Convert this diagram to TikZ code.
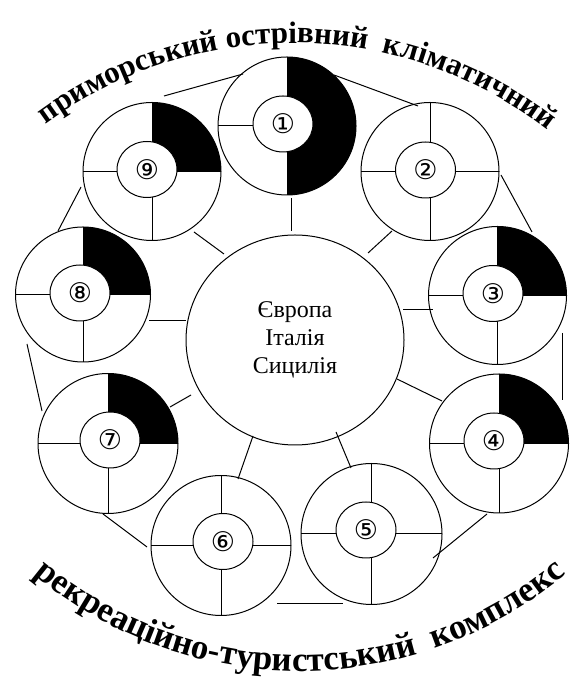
\documentclass[tikz,border=0pt]{standalone}
\usepackage{fontspec}
\setmainfont{Liberation Serif}
\newfontfamily\symfont{DejaVu Sans}
\usetikzlibrary{shapes.geometric,decorations.text}
\tikzset{
  ln/.style={line width=1pt},
  outerring/.style={circle, draw, line width=1pt, inner sep=0pt},
  innerring/.style={ellipse, draw, fill=white, line width=1pt, inner sep=0pt,
    minimum width=60pt, minimum height=56pt, font=\symfont\fontsize{27}{27}\selectfont},
  hub/.style={ellipse, draw, line width=1pt, inner sep=0pt, minimum width=218pt,
    minimum height=210pt, align=center, font=\fontsize{24}{28}\selectfont},
  link/.style={line width=1pt},
}
\newcommand\dial[8]{%
  \ifcase#7\relax\or
    \fill (#2,#3) -- (#2,#3+#4) arc[start angle=90,end angle=0,radius=#4] -- cycle;
  \or
    \fill (#2,#3+#4) arc[start angle=90,end angle=-90,radius=#4] -- cycle;
  \fi
  \draw[ln] (#2-#4,#3) -- (#2+#4,#3) (#2,#3-#4) -- (#2,#3+#4);
  \node[innerring] (#1i) at (#2+#5,#3+#6) {#8};
  \node[outerring, minimum size={2*#4pt}] (#1) at (#2,#3) {};
}
\begin{document}
\begin{tikzpicture}[x=1pt,y=1pt]
\useasboundingbox (0,0) rectangle (573,684);
% hub
\node[hub] (ctr) at (295,344) {Європа\\Італія\\Сицилія};
% dials
\dial{d1}{287}{558}{69}{-4}{2}{2}{①}
\dial{d2}{430}{512.5}{69}{-4.5}{1.5}{0}{②}
\dial{d3}{497.5}{388.5}{69}{-4.5}{2}{1}{③}
\dial{d4}{499}{240.5}{69.5}{-5}{2.5}{1}{④}
\dial{d5}{371.5}{150}{70.5}{-5.5}{4}{0}{⑤}
\dial{d6}{221}{138.5}{70}{2}{4}{0}{⑥}
\dial{d7}{108}{240.5}{70}{2}{3.5}{1}{⑦}
\dial{d8}{83}{389.5}{67.5}{-3}{1.5}{1}{⑧}
\dial{d9}{152}{512.5}{69}{-5}{2}{1}{⑨}
% connector end points: hub spokes
\coordinate (s1a) at (291,486); \coordinate (s1b) at (291,453);
\coordinate (s2a) at (368,431); \coordinate (s2b) at (392,453);
\coordinate (s3a) at (403,374); \coordinate (s3b) at (433,374);
\coordinate (s4a) at (397,305); \coordinate (s4b) at (442,283);
\coordinate (s5a) at (336,252); \coordinate (s5b) at (351,216);
\coordinate (s6a) at (253,248); \coordinate (s6b) at (238,205);
\coordinate (s7a) at (191,289); \coordinate (s7b) at (170,277);
\coordinate (s8a) at (149,363); \coordinate (s8b) at (186,363);
\coordinate (s9a) at (194,452); \coordinate (s9b) at (224,430);
\foreach \k in {1,...,9} {\draw[link] (s\k a) -- (s\k b);}
% ring links
\coordinate (r91a) at (164,588); \coordinate (r91b) at (243,610);
\coordinate (r12a) at (334,609); \coordinate (r12b) at (418,578);
\coordinate (r23a) at (501,509); \coordinate (r23b) at (532,452);
\coordinate (r34a) at (562,351); \coordinate (r34b) at (562,284);
\coordinate (r45a) at (487,170); \coordinate (r45b) at (433,126);
\coordinate (r56a) at (277,80);  \coordinate (r56b) at (343,80);
\coordinate (r67a) at (147,137); \coordinate (r67b) at (103,170);
\coordinate (r78a) at (42,273);  \coordinate (r78b) at (27,340);
\coordinate (r89a) at (58,453);  \coordinate (r89b) at (81,497);
\foreach \k in {91,12,23,34,45,56,67,78,89} {\draw[link] (r\k a) -- (r\k b);}
% curved titles
\path[decorate, decoration={text along path, text align=center,
  text={|\bfseries\fontsize{31}{31}\selectfont|приморський острівний {~}кліматичний}}]
  (293,224) ++(139.35:417) arc[start angle=139.35, end angle=39.35, radius=417];
\path[decorate, decoration={text along path, text align=center,
  text={|\bfseries\fontsize{35}{35}\selectfont|рекреаційно-туристський {~}комплекс}}]
  (300,428) ++(220:415) arc[start angle=220, end angle=320, radius=415];
\end{tikzpicture}
\end{document}
